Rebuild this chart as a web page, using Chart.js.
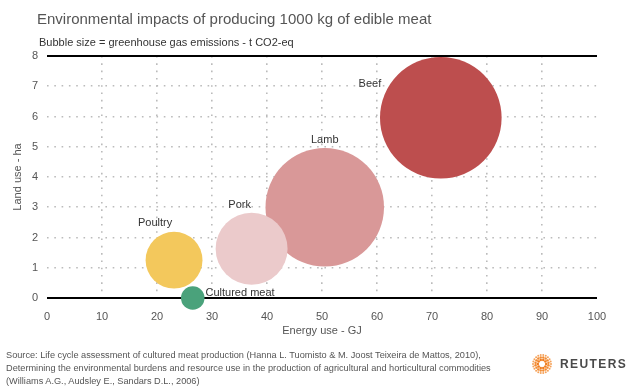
<!DOCTYPE html>
<html>
<head>
<meta charset="utf-8">
<script src="https://cdn.jsdelivr.net/npm/chart.js@4.4.1/dist/chart.umd.min.js"></script>
<style>
  html, body { margin: 0; padding: 0; background: #fff; }
  body { width: 637px; height: 388px; position: relative; overflow: hidden; font-family: "Liberation Sans", Arial, sans-serif; }
  #wrap { position: absolute; left: 0; top: 0; width: 637px; height: 388px; }
  .title { position: absolute; left: 37px; top: 10px; font-size: 15px; color: #555; white-space: nowrap; }
  .sub { position: absolute; left: 39px; top: 36px; font-size: 11px; color: #333; white-space: nowrap; }
  .source { position: absolute; left: 6px; top: 349px; font-size: 9.2px; line-height: 13px; color: #555; white-space: nowrap; }
  .logo { position: absolute; left: 530px; top: 352px; }
  .reuters { position: absolute; left: 560px; top: 357px; font-size: 12px; font-weight: bold; color: #4a4a4a; letter-spacing: 1.4px; }
</style>
</head>
<body>
<div id="wrap"><canvas id="chart" width="637" height="388"></canvas></div>
<div class="title">Environmental impacts of producing 1000 kg of edible meat</div>
<div class="sub">Bubble size = greenhouse gas emissions - t CO2-eq</div>
<div class="source">Source: Life cycle assessment of cultured meat production (Hanna L. Tuomisto &amp; M. Joost Teixeira de Mattos, 2010),<br>Determining the environmental burdens and resource use in the production of agricultural and horticultural commodities<br>(Williams A.G., Audsley E., Sandars D.L., 2006)</div>
<svg class="logo" id="logo" width="24" height="24" viewBox="-12 -12 24 24"></svg>
<div class="reuters">REUTERS</div>
<script>
// ===== DATA =====
const meats = ["Beef", "Lamb", "Pork", "Poultry", "Cultured meat"];
const energy = [71.6, 50.5, 37.2, 23.1, 26.5];     // GJ
const landUse = [5.96, 3.0, 1.63, 1.25, 0];        // ha
const ghg = [16, 15.2, 5.6, 3.5, 0.6];             // t CO2-eq
const colors = ["#bd4e4e", "#d99898", "#ebcacb", "#f3c85c", "#4aa27b"];
const xTicks = [0, 10, 20, 30, 40, 50, 60, 70, 80, 90, 100];
const yTicks = [0, 1, 2, 3, 4, 5, 6, 7, 8];

// reuters dots
const logo = document.getElementById("logo");
[[10, 4.2, 1.3, "#f07d1e"], [16, 6.6, 1.2, "#f28a30"], [22, 9.0, 1.0, "#f5a25a"]].forEach(([n, rad, s, col], k) => {
  for (let i = 0; i < n; i++) {
    const a = (i + k * 0.5) / n * Math.PI * 2;
    const c = document.createElementNS("http://www.w3.org/2000/svg", "circle");
    c.setAttribute("cx", (Math.cos(a) * rad).toFixed(2));
    c.setAttribute("cy", (Math.sin(a) * rad).toFixed(2));
    c.setAttribute("r", s);
    c.setAttribute("fill", col);
    logo.appendChild(c);
  }
});

// label placement (px)
const labelPos = {
  "Beef": { align: "right", dx: -17, dy: -28 },
  "Lamb": { align: "center", dx: 0, dy: -3 },
  "Pork": { align: "center", dx: -12, dy: -2 },
  "Poultry": { align: "center", dx: -19, dy: -3 },
  "Cultured meat": { align: "left", dx: 1, dy: 0 }
};

const bubbleLabels = {
  id: "bubbleLabels",
  afterDatasetsDraw(chart) {
    const ctx = chart.ctx;
    ctx.save();
    ctx.font = "11px 'Liberation Sans', Arial, sans-serif";
    ctx.fillStyle = "#333";
    chart.getDatasetMeta(0).data.forEach((el, i) => {
      const p = labelPos[meats[i]];
      const r = el.options.radius;
      let x, y;
      ctx.textAlign = p.align;
      ctx.textBaseline = "bottom";
      if (p.align === "right") { x = el.x - r * 0.7 + p.dx; y = el.y + p.dy; }
      else if (p.align === "left") { x = el.x + r + p.dx; y = el.y + p.dy; }
      else { x = el.x + p.dx; y = el.y - r + p.dy; }
      ctx.fillText(meats[i], x, y);
    });
    ctx.restore();
  }
};

const frameLines = {
  id: "frameLines",
  beforeDatasetsDraw(chart) {
    const { ctx, chartArea, scales } = chart;
    ctx.save();
    ctx.strokeStyle = "#000";
    ctx.lineWidth = 2;
    [0, 8].forEach(v => {
      const y = Math.round(scales.y.getPixelForValue(v));
      ctx.beginPath();
      ctx.moveTo(chartArea.left, y);
      ctx.lineTo(chartArea.right, y);
      ctx.stroke();
    });
    ctx.restore();
  }
};

const font = { size: 11, family: "'Liberation Sans', Arial" };

new Chart(document.getElementById("chart"), {
  type: "bubble",
  data: {
    datasets: [{
      data: meats.map((m, i) => ({ x: energy[i], y: landUse[i], r: 15.2 * Math.sqrt(ghg[i]) })),
      backgroundColor: colors,
      hoverBackgroundColor: colors,
      borderWidth: 0,
      clip: false
    }]
  },
  options: {
    responsive: false,
    animation: false,
    events: [],
    layout: { autoPadding: false, padding: { left: 0, top: 56, right: 40, bottom: 0 } },
    plugins: { legend: { display: false }, tooltip: { enabled: false } },
    scales: {
      x: {
        type: "linear",
        min: 0, max: 100,
        afterFit: s => { s.height = 90; s.paddingLeft = 0; s.paddingRight = 0; },
        afterBuildTicks: s => { s.ticks = xTicks.map(v => ({ value: v })); },
        grid: {
          color: c => (c.tick.value === 0 || c.tick.value === 100) ? "transparent" : "#bbb",
          drawTicks: false, lineWidth: 1.6
        },
        border: { display: false, dash: [1.6, 5.7] },
        ticks: { padding: 12, color: "#555", font },
        title: { display: true, text: "Energy use - GJ", color: "#555", padding: { top: 0, bottom: 50 }, font }
      },
      y: {
        type: "linear",
        min: 0, max: 8,
        afterFit: s => { s.width = 47; s.paddingTop = 0; s.paddingBottom = 0; },
        afterBuildTicks: s => { s.ticks = yTicks.map(v => ({ value: v })); },
        grid: {
          color: c => (c.tick.value === 0 || c.tick.value === 8) ? "transparent" : "#bbb",
          drawTicks: false, lineWidth: 1.6
        },
        border: { display: false, dash: [1.6, 5.7] },
        ticks: { padding: 9, color: "#555", font },
        title: { display: true, text: "Land use - ha", color: "#555", padding: { top: 11, bottom: 0 }, font }
      }
    }
  },
  plugins: [frameLines, bubbleLabels]
});
</script>
</body>
</html>
